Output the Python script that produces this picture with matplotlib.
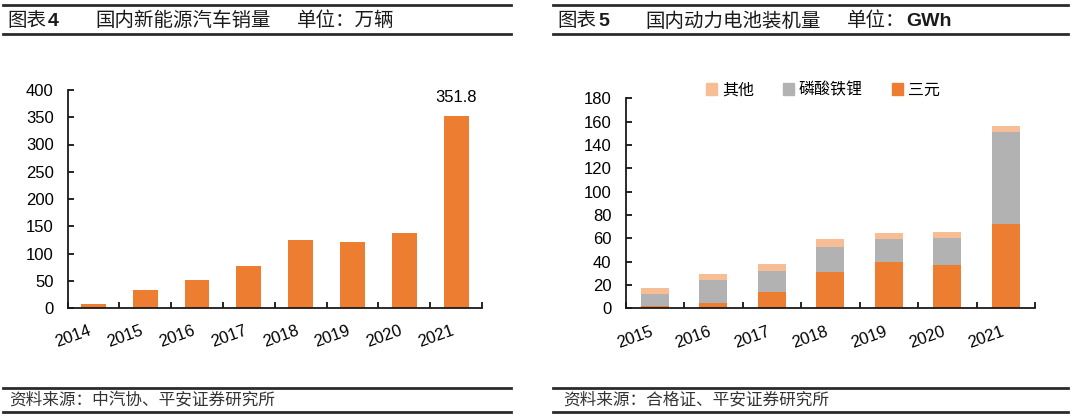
import numpy as np
import matplotlib
matplotlib.use("Agg")
import matplotlib.pyplot as plt
from matplotlib.patches import Patch
from matplotlib.lines import Line2D

plt.rcParams['font.family'] = ['Liberation Sans', 'Noto Sans CJK SC', 'DejaVu Sans']

# -------------------------------
# DATA
# -------------------------------
# 图表4 国内新能源汽车销量 (万辆)
ev_years = ['2014', '2015', '2016', '2017', '2018', '2019', '2020', '2021']
ev_sales = [7.5, 33.1, 50.7, 77.7, 125.6, 120.6, 136.7, 351.8]

# 图表5 国内动力电池装机量 (GWh)
bat_years = ['2015', '2016', '2017', '2018', '2019', '2020', '2021']
ncm = [2.0, 4.8, 14.0, 31.2, 39.5, 36.8, 72.5]      # 三元
lfp = [10.2, 19.7, 18.2, 21.5, 19.5, 23.8, 79.0]    # 磷酸铁锂
other = [4.8, 4.8, 5.4, 6.3, 5.2, 5.1, 4.8]         # 其他

ORANGE = '#ED7D31'
GREY = '#B2B2B2'
LIGHT = '#F7BE96'
CJK = ['Noto Sans CJK SC', 'DejaVu Sans']

W, H = 1080, 420
fig = plt.figure(figsize=(W / 100, H / 100), dpi=100)


def fx(px):
    return px / W


def fy(py):
    return 1 - py / H


def style_axis(ax, n, ymax, step, labels):
    ax.set_xlim(-0.5, n - 0.5)
    ax.set_ylim(0, ymax)
    ax.set_yticks(np.arange(0, ymax + 1, step))
    for s in ['top', 'right']:
        ax.spines[s].set_visible(False)
    for s in ['left', 'bottom']:
        ax.spines[s].set_linewidth(1.3)
        ax.spines[s].set_color('#1a1a1a')
    ax.set_xticks(np.arange(n))
    ax.set_xticklabels(labels, rotation=20, ha='right', fontsize=12)
    ax.set_xticks(np.arange(-0.5, n, 1.0), minor=True)
    ax.tick_params(axis='x', which='major', length=0, pad=11)
    ax.tick_params(axis='x', which='minor', direction='in', length=4, width=1.2)
    ax.tick_params(axis='y', direction='in', length=4, width=1.2, pad=10, labelsize=12)


# -------------------------------
# LEFT: 新能源汽车销量
# -------------------------------
ax1 = fig.add_axes([fx(67.5), fy(308), fx(482 - 67.5), (308 - 90) / H])
x1 = np.arange(len(ev_years))
ax1.bar(x1, ev_sales, width=0.48, color=ORANGE)
style_axis(ax1, len(ev_years), 400, 50, ev_years)
ax1.annotate(f'{ev_sales[-1]}', (x1[-1], ev_sales[-1]), xytext=(0, 8),
             textcoords='offset points', ha='center', va='bottom', fontsize=12)

# -------------------------------
# RIGHT: 动力电池装机量
# -------------------------------
ax2 = fig.add_axes([fx(625.5), fy(308.3), fx(1035 - 625.5), (308.3 - 98.3) / H])
x2 = np.arange(len(bat_years))
ncm_a, lfp_a, oth_a = np.array(ncm), np.array(lfp), np.array(other)
ax2.bar(x2, ncm_a, width=0.48, color=ORANGE)
ax2.bar(x2, lfp_a, width=0.48, bottom=ncm_a, color=GREY)
ax2.bar(x2, oth_a, width=0.48, bottom=ncm_a + lfp_a, color=LIGHT)
style_axis(ax2, len(bat_years), 180, 20, bat_years)

handles = [Patch(color=LIGHT, label='其他'),
           Patch(color=GREY, label='磷酸铁锂'),
           Patch(color=ORANGE, label='三元')]
fig.legend(handles=handles, loc='center', bbox_to_anchor=(fx(823), fy(90)), ncol=3,
           frameon=False, prop={'family': CJK, 'size': 11.5},
           handlelength=0.7, handleheight=0.7, handletextpad=0.3,
           columnspacing=1.8, borderaxespad=0)

# -------------------------------
# HEADERS / FOOTERS
# -------------------------------
line_kw = dict(color='#2b2b2b', linewidth=2.0, transform=fig.transFigure)
for xa, xb in [(3, 511), (553, 1068)]:
    for yy in [4.5, 34, 387.5, 411.5]:
        fig.add_artist(Line2D([fx(xa), fx(xb)], [fy(yy), fy(yy)], **line_kw))

hy = fy(21)
tkw = dict(va='center', ha='left', fontsize=14, color='#1a1a1a')
fig.text(fx(7), hy, '图表', family=CJK, weight='medium', **tkw)
fig.text(fx(48), hy, '4', family='Liberation Sans', weight='bold', **tkw)
fig.text(fx(95), hy, '国内新能源汽车销量', family=CJK, weight='medium', **tkw)
fig.text(fx(297), hy, '单位：万辆', family=CJK, weight='medium', **tkw)

fig.text(fx(557), hy, '图表', family=CJK, weight='medium', **tkw)
fig.text(fx(598), hy, '5', family='Liberation Sans', weight='bold', **tkw)
fig.text(fx(645), hy, '国内动力电池装机量', family=CJK, weight='medium', **tkw)
fig.text(fx(847), hy, '单位：', family=CJK, weight='medium', **tkw)
fig.text(fx(906), hy, 'GWh', family='Liberation Sans', weight='bold', **tkw)

fkw = dict(va='center', ha='left', fontsize=12, color='#333333', family=CJK, style='italic')
fig.text(fx(9), fy(400), '资料来源：中汽协、平安证券研究所', **fkw)
fig.text(fx(563), fy(400), '资料来源：合格证、平安证券研究所', **fkw)

fig.savefig('out.png', dpi=100)
